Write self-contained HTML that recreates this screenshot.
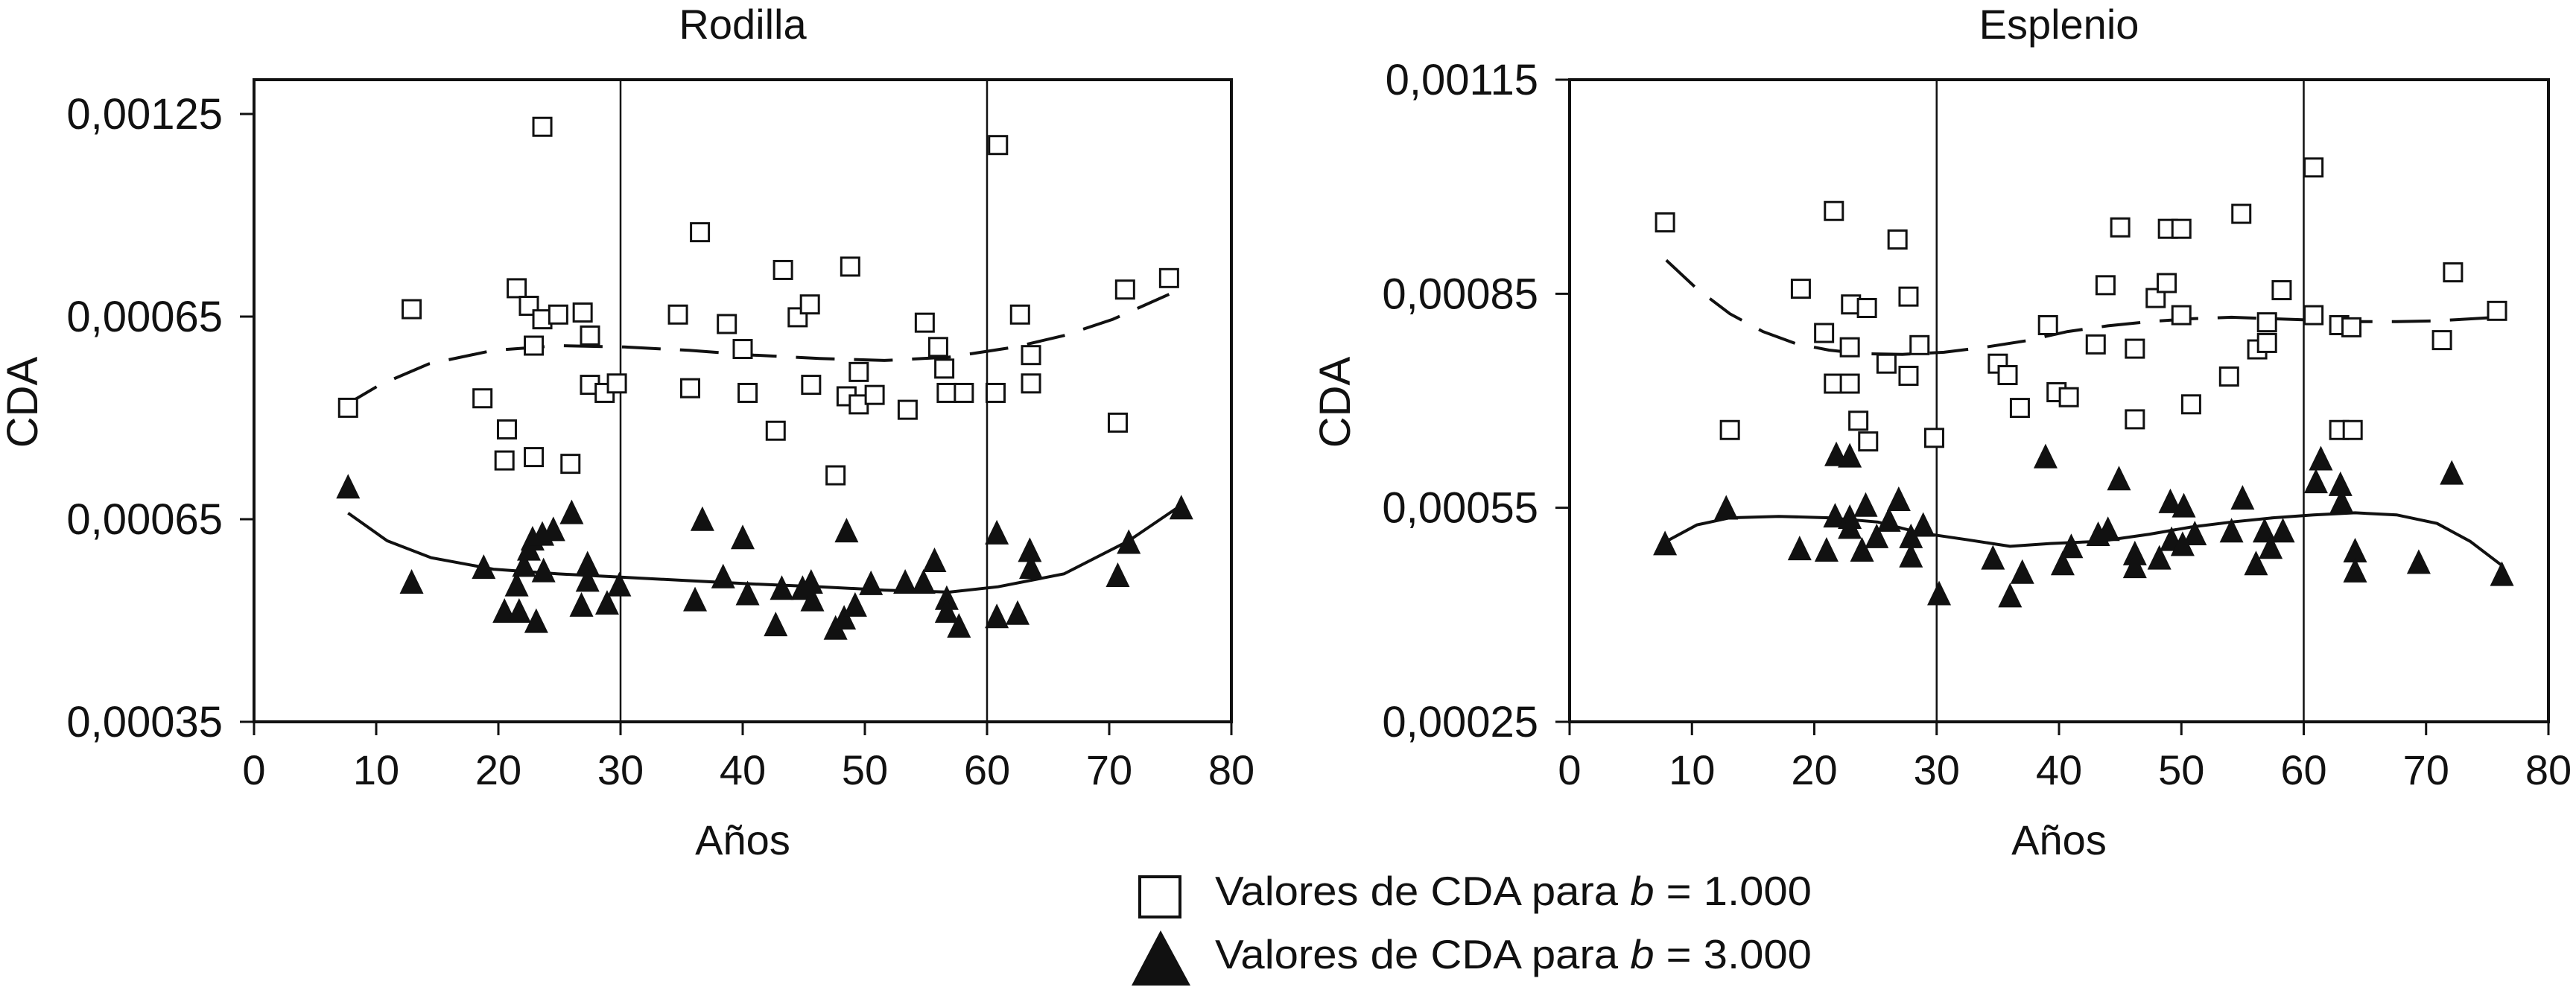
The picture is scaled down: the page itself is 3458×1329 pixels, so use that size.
<!DOCTYPE html>
<html><head><meta charset="utf-8"><style>
html,body{margin:0;padding:0;background:#fff;}
svg{display:block;}
text{font-family:"Liberation Sans",Arial,sans-serif;fill:#111;}
</style></head><body>
<svg id="c" width="3458" height="1329" viewBox="0 0 3458 1329" xmlns="http://www.w3.org/2000/svg">
<g id="legend">
  <rect x="1530" y="1177" width="54" height="54" fill="#fff" stroke="#111" stroke-width="4"/>
  <text x="1631" y="1215" font-size="55" textLength="801" lengthAdjust="spacingAndGlyphs">Valores de CDA para <tspan font-style="italic">b</tspan> = 1.000</text>
  <polygon points="1558,1249 1519,1323 1598,1323" fill="#111"/>
  <text x="1631" y="1300" font-size="55" textLength="801" lengthAdjust="spacingAndGlyphs">Valores de CDA para <tspan font-style="italic">b</tspan> = 3.000</text>
</g>
</svg>
<script>
// ---- Rodilla data (values in units of 1e-5) ----
const rodSqAge=[7.7,12.9,18.7,21.5,20.7,20.5,22.5,22.9,23.6,22.9,24.9,26.9,25.9,27.5,27.5,28.7,29.7,23.6,34.7,35.7,36.5,38.7,40.0,40.4,42.7,43.3,44.5,45.5,45.6,47.6,48.5,48.8,49.5,49.5,50.8,53.5,54.9,56.0,56.5,56.7,58.1,60.9,60.7,62.7,63.6,63.6,70.7,71.3,74.9];
const rodSqVal=[81.5,96.1,82.9,99.2,78.3,73.7,96.6,74.2,94.6,90.7,95.3,95.6,73.2,92.2,84.9,83.7,85.1,123.1,95.3,84.4,107.5,93.9,90.2,83.7,78.1,101.9,94.9,96.8,84.9,71.5,83.2,102.4,82.0,86.8,83.4,81.2,94.1,90.5,87.3,83.7,83.7,120.4,83.7,95.3,89.3,85.1,79.3,99.0,100.7];
const rodTrAge=[7.7,12.9,18.8,20.5,21.7,21.5,22.1,22.5,23.1,22.8,23.6,23.7,24.5,26.0,26.8,27.3,27.3,28.9,29.9,36.7,36.1,38.4,40.0,40.4,42.7,43.2,44.9,45.6,45.7,47.6,48.3,48.5,49.2,50.5,53.3,54.8,55.7,56.7,56.7,57.7,60.8,60.8,62.5,63.5,63.6,70.7,71.6,75.9];
const rodTrVal=[69.5,55.4,57.6,51.1,51.1,55.0,57.9,60.3,49.6,61.8,62.5,57.1,63.2,65.7,52.0,58.1,55.7,52.3,55.0,64.7,52.8,56.2,62.0,53.7,49.1,54.5,54.5,55.4,52.8,48.6,50.1,63.0,52.0,55.2,55.4,55.4,58.6,53.0,51.1,48.9,62.7,50.3,50.8,60.1,57.6,56.4,61.3,66.4];
const rodDashAge=[7.3,10.3,14.3,19.6,24.9,30.3,35.6,40.9,46.3,51.6,56.9,62.3,66.3,70.3,74.9];
const rodDashVal=[81.7,84.9,88.0,90.0,90.7,90.5,90.0,89.3,88.8,88.5,89.0,90.5,92.2,94.6,98.3];
const rodSolidAge=[7.7,10.9,14.5,19.6,24.9,30.3,35.6,40.9,46.3,51.6,56.9,60.9,66.3,71.6,75.9];
const rodSolidVal=[65.9,61.8,59.3,57.6,56.9,56.4,55.9,55.4,55.0,54.5,54.2,55.0,56.9,61.8,67.1];
const rodYTicks=[35,65,95,125];
const rodYLabels=["0,00035","0,00065","0,00065","0,00125"];
// ---- Esplenio data ----
const espSqAge=[7.8,13.1,21.6,18.9,20.8,21.6,22.9,23.0,24.3,22.9,23.6,24.4,25.9,26.8,27.7,27.7,28.6,29.8,35.0,35.8,36.8,39.1,39.8,40.8,43.0,43.8,45.0,46.2,46.2,47.9,48.8,48.9,50.0,50.0,50.8,53.9,54.9,56.2,57.0,57.0,58.2,60.8,60.8,62.9,63.9,62.9,64.0,71.3,72.2,75.8];
const espSqVal=[95.0,65.9,96.6,85.7,79.5,72.4,72.4,83.5,83.0,77.5,67.2,64.3,75.2,92.6,84.6,73.5,77.8,64.8,75.2,73.6,69.0,80.6,71.2,70.5,77.9,86.2,94.3,77.3,67.4,84.4,86.5,94.1,94.1,82.0,69.5,73.4,96.2,77.2,78.1,81.0,85.5,102.7,82.0,80.6,80.3,65.9,65.9,78.5,88.0,82.6];
const espTrAge=[7.8,12.8,18.8,21.0,21.8,22.9,21.7,22.9,22.9,23.9,24.2,25.1,26.1,26.9,27.9,27.9,28.9,30.2,34.6,36.0,37.0,38.9,40.3,41.0,43.2,44.0,44.9,46.2,46.2,48.2,49.1,49.2,50.1,50.2,51.1,54.1,55.0,56.1,56.8,57.3,58.3,61.0,61.4,63.0,63.1,64.2,64.2,69.4,72.1,76.2];
const espTrVal=[49.7,54.7,49.0,48.8,62.2,62.0,53.6,53.4,52.0,48.8,55.1,50.7,53.0,55.9,50.7,48.0,52.3,42.7,47.7,42.4,45.7,61.9,46.9,49.3,51.0,51.7,58.8,48.3,46.5,47.7,55.6,50.3,49.6,55.0,51.1,51.5,56.1,46.9,51.5,49.2,51.5,58.4,61.6,58.0,55.6,48.7,45.9,47.1,59.6,45.4];
const espDashAge=[7.9,10.4,13.1,15.8,18.5,21.2,23.9,27.2,30.6,33.9,37.3,40.7,44.0,47.4,50.8,54.1,57.5,60.8,64.2,67.6,70.9,75.8];
const espDashVal=[89.7,85.7,82.2,79.7,78.0,77.1,76.6,76.5,76.8,77.5,78.4,79.7,80.5,81.1,81.5,81.7,81.5,81.3,81.1,81.1,81.2,81.7];
const espSolidAge=[7.9,10.4,13.1,17.1,21.2,25.2,28.6,32.6,36.0,39.3,43.3,47.4,50.8,54.1,57.5,60.8,64.2,67.6,70.9,73.6,76.2];
const espSolidVal=[50.3,52.6,53.6,53.8,53.6,53.0,51.5,50.5,49.6,50.0,50.3,51.3,52.3,53.0,53.6,54.0,54.3,54.0,52.8,50.3,46.9];
const espYTicks=[25,55,85,115];
const espYLabels=["0,00025","0,00055","0,00085","0,00115"];
const xTicks=[0,10,20,30,40,50,60,70,80];
const vLines=[30,60];

const NS="http://www.w3.org/2000/svg";
const svg=document.getElementById('c');
function mk(tag,attrs,parent){const e=document.createElementNS(NS,tag);for(const k in attrs)e.setAttribute(k,attrs[k]);parent.appendChild(e);return e;}

function drawChart(cfg){
  const g=mk('g',{},svg);
  
  
  const L=cfg.left,R=cfg.right,T=107,B=969;
  const xs=a=>L+(a-0)/80*(R-L);
  const y=v=>B+(v-cfg.ymin)/(cfg.ymax-cfg.ymin)*(cfg.yTopTickPx-B);
  const frame=mk('rect',{x:L,y:T,width:R-L,height:B-T,fill:'none',stroke:'#111','stroke-width':4},g);
  
  
  vLines.forEach(v=>{const l=mk('line',{x1:xs(v),x2:xs(v),y1:T,y2:B,stroke:'#111','stroke-width':2.5},g);
    
    });
  xTicks.forEach(t=>{
    const l=mk('line',{x1:xs(t),x2:xs(t),y1:B,y2:B+18,stroke:'#111','stroke-width':3},g);
    
    
    const tx=mk('text',{x:xs(t),y:1053,'font-size':56,'text-anchor':'middle'},g);
    tx.textContent=t;
    
    
  });
  cfg.yTicks.forEach((t,i)=>{
    const l=mk('line',{x1:L-19,x2:L,y1:y(t),y2:y(t),stroke:'#111','stroke-width':3},g);
    
    
    const tx=mk('text',{x:L-42,y:y(t)+20,'font-size':58,'text-anchor':'end'},g);
    tx.textContent=cfg.yLabels[i];
    
    
  });
  const ti=mk('text',{x:(L+R)/2,y:52,'font-size':56,'text-anchor':'middle'},g);
  ti.textContent=cfg.title;
  
  
  const xt=mk('text',{x:(L+R)/2,y:1147,'font-size':56,'text-anchor':'middle'},g);
  xt.textContent='Años';
  
  
  const cx=cfg.cdaX;
  const yt=mk('text',{x:cx,y:540,'font-size':58,'text-anchor':'middle',transform:`rotate(-90 ${cx} 540)`},g);
  yt.textContent='CDA';
  
  
  const path=(ages,vals)=>ages.map((a,i)=>(i?'L':'M')+xs(a).toFixed(1)+' '+y(vals[i]).toFixed(1)).join(' ');
  const d=mk('path',{d:path(cfg.dashAge,cfg.dashVal),fill:'none',stroke:'#111','stroke-width':4,'stroke-dasharray':'52 26'},g);
  
  
  const s=mk('path',{d:path(cfg.solidAge,cfg.solidVal),fill:'none',stroke:'#111','stroke-width':4},g);
  
  
  cfg.sqAge.forEach((a,i)=>{
    const r=mk('rect',{x:xs(a)-12,y:y(cfg.sqVal[i])-12,width:24,height:24,fill:'#fff',stroke:'#111','stroke-width':3},g);
    
    
  });
  cfg.trAge.forEach((a,i)=>{
    const px=xs(a),py=y(cfg.trVal[i]);
    const p=mk('polygon',{points:`${px},${py-20} ${px-16},${py+13} ${px+16},${py+13}`,fill:'#111'},g);
    
    
  });
}
drawChart({name:'chart-rodilla',title:'Rodilla',left:341,right:1653,ymin:35,ymax:125,yTopTickPx:153,yTicks:rodYTicks,yLabels:rodYLabels,cdaX:50,
  sqAge:rodSqAge,sqVal:rodSqVal,trAge:rodTrAge,trVal:rodTrVal,dashAge:rodDashAge,dashVal:rodDashVal,solidAge:rodSolidAge,solidVal:rodSolidVal});
drawChart({name:'chart-esplenio',title:'Esplenio',left:2107,right:3421,ymin:25,ymax:115,yTopTickPx:107,yTicks:espYTicks,yLabels:espYLabels,cdaX:1812,
  sqAge:espSqAge,sqVal:espSqVal,trAge:espTrAge,trVal:espTrVal,dashAge:espDashAge,dashVal:espDashVal,solidAge:espSolidAge,solidVal:espSolidVal});
</script>
</body></html>
